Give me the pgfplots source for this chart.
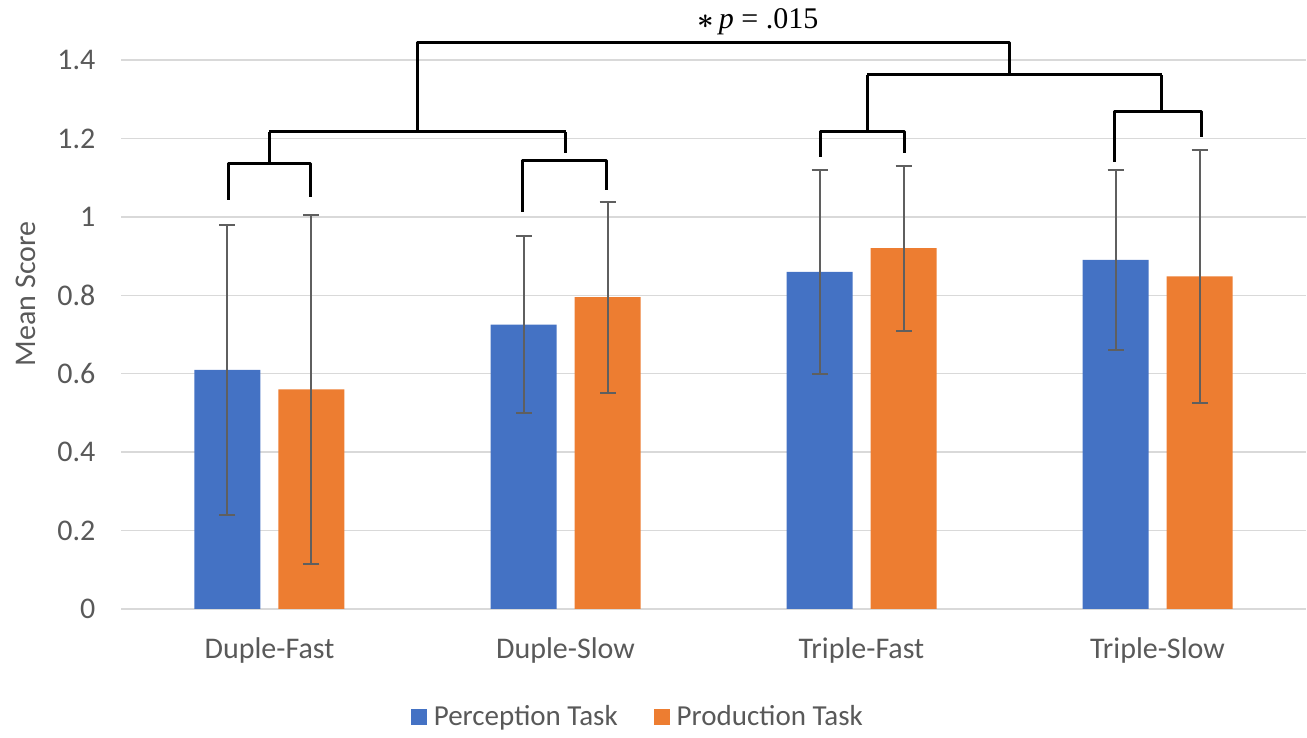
\documentclass[border=0pt]{standalone}
\usepackage{pgfplots}
\pgfplotsset{compat=1.18}
\usepackage{fontspec}
\setmainfont{Carlito}
\newfontfamily\tnr{Liberation Serif}
\definecolor{cblue}{HTML}{4472C4}
\definecolor{corange}{HTML}{ED7D31}
\definecolor{gridc}{HTML}{D9D9D9}
\definecolor{txt}{HTML}{595959}
\definecolor{errc}{HTML}{5F5F5F}
\begin{document}
\begin{tikzpicture}
\useasboundingbox (-60.75pt,-64.5pt) rectangle (592.75pt,304.5pt);
\begin{axis}[
  scale only axis, width=592pt, height=274.5pt,
  xmin=-0.5, xmax=3.5, ymin=0, ymax=1.4,
  clip=false,
  axis line style={draw=none},
  ybar=9pt, bar width=33pt,
  xtick={0,1,2,3},
  xticklabels={Duple-Fast,Duple-Slow,Triple-Fast,Triple-Slow},
  ytick={0,0.2,0.4,0.6,0.8,1,1.2,1.4},
  yticklabels={0,0.2,0.4,0.6,0.8,1,1.2,1.4},
  major tick length=0pt,
  tick style={draw=none},
  ymajorgrids, grid style={gridc, line width=0.75pt},
  ticklabel style={font=\fontsize{15}{17}\selectfont, text=txt},
  yticklabel style={xshift=-9.5pt},
  xticklabel style={yshift=-11pt},
  ylabel={Mean Score},
  every axis y label/.style={at={(axis description cs:-0.0811,0.574)}, rotate=90, anchor=center, font=\fontsize{15}{17}\selectfont, text=txt},
  legend style={at={(axis description cs:0.437,-0.197)}, anchor=center, draw=none, fill=none,
    font=\fontsize{14.5}{16}\selectfont, text=txt, legend columns=2,
    /tikz/every even column/.append style={column sep=16pt},
    legend cell align=left},
  legend image code/.code={\fill[#1] (0pt,-4pt) rectangle (8pt,4pt);},
  error bars/y dir=both, error bars/y explicit,
  error bars/error bar style={errc, line width=1pt},
  error bars/error mark options={rotate=90, errc, mark size=4pt, line width=1pt},
]
\addplot[fill=cblue, draw=none] coordinates {
  (0,0.61) +- (0,0.37)
  (1,0.725) +- (0,0.225)
  (2,0.86) +- (0,0.26)
  (3,0.89) +- (0,0.23)
};
\addplot[fill=corange, draw=none] coordinates {
  (0,0.56) +- (0,0.445)
  (1,0.795) +- (0,0.2435)
  (2,0.92) +- (0,0.21)
  (3,0.848) +- (0,0.323)
};
\legend{\hspace{1.5pt}Perception Task, \hspace{1.5pt}Production Task}
% significance brackets
\begin{scope}[line width=1.5pt, black, line join=round]
\draw (axis cs:-0.140,1.043) -- (axis cs:-0.140,1.137) -- (axis cs:0.140,1.137) -- (axis cs:0.140,1.051);
\draw (axis cs:0.856,1.0125) -- (axis cs:0.856,1.143) -- (axis cs:1.140,1.143) -- (axis cs:1.140,1.069);
\draw (axis cs:0,1.137) -- (axis cs:0,1.217);
\draw (axis cs:1.0,1.163) -- (axis cs:1.0,1.217);
\draw (axis cs:0,1.217) -- (axis cs:1,1.217);
\draw (axis cs:0.5,1.217) -- (axis cs:0.5,1.444) -- (axis cs:2.5,1.444) -- (axis cs:2.5,1.362);
\draw (axis cs:1.863,1.153) -- (axis cs:1.863,1.217) -- (axis cs:2.144,1.217) -- (axis cs:2.144,1.163);
\draw (axis cs:2.856,1.14) -- (axis cs:2.856,1.268) -- (axis cs:3.147,1.268) -- (axis cs:3.147,1.204);
\draw (axis cs:2.02,1.217) -- (axis cs:2.02,1.362);
\draw (axis cs:3.015,1.268) -- (axis cs:3.015,1.362);
\draw (axis cs:2.02,1.362) -- (axis cs:3.015,1.362);
\end{scope}
\node[anchor=base west, inner sep=0pt, font=\tnr\fontsize{15}{17}\selectfont] at (axis cs:1.444,1.480) {{\boldmath$\ast$}\,\textit{p} = .015};
\end{axis}
\end{tikzpicture}
\end{document}
